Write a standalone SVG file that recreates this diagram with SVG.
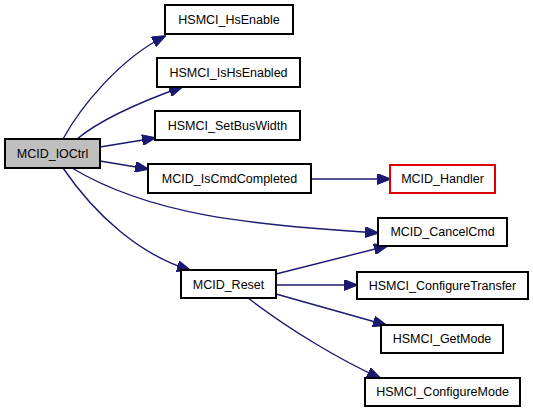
<svg xmlns="http://www.w3.org/2000/svg" width="533" height="412" viewBox="0 0 533 412">
<style>
.n rect{fill:#fff;stroke:#000;stroke-width:2}
.n text{font-family:"Liberation Sans",Arial,sans-serif;font-size:12.5px;fill:#000;text-anchor:middle}
.e path{fill:none;stroke:#191970;stroke-width:1.4;marker-end:url(#a)}
</style>
<defs>
<marker id="a" markerUnits="userSpaceOnUse" markerWidth="14" markerHeight="11" refX="13" refY="5.5" orient="auto" viewBox="0 0 14 11">
<polygon points="0,0 14,5.5 0,11" fill="#191970" stroke="#191970"/>
</marker>
</defs>
<rect width="533" height="412" fill="#fff"/>
<g class="e" id="edges">
<path d="M63,139 C80,108 118,60 165,36"/>
<path d="M77,139 C100,120 140,102 182,87"/>
<path d="M100,147 L155,138"/>
<path d="M100,161 L148,169"/>
<path d="M72,168 C150,215 250,225 378,233"/>
<path d="M63,168 C95,215 140,255 190,270"/>
<path d="M311,179 L390,179"/>
<path d="M276,274 L387,246"/>
<path d="M276,285 L357,285"/>
<path d="M276,294 L386,325"/>
<path d="M248,298 C290,330 340,360 380,378"/>
</g>
<g class="n" id="MCID_IOCtrl"><rect x="5" y="139" width="95" height="29" style="fill:#bfbfbf"/><text x="52.5" y="158">MCID_IOCtrl</text></g>
<g class="n" id="HSMCI_HsEnable"><rect x="165" y="5" width="128" height="29"/><text x="229" y="24">HSMCI_HsEnable</text></g>
<g class="n" id="HSMCI_IsHsEnabled"><rect x="157" y="58" width="143" height="29"/><text x="228.5" y="77">HSMCI_IsHsEnabled</text></g>
<g class="n" id="HSMCI_SetBusWidth"><rect x="155" y="111" width="145" height="29"/><text x="227.5" y="130">HSMCI_SetBusWidth</text></g>
<g class="n" id="MCID_IsCmdCompleted"><rect x="148" y="164" width="163" height="29"/><text x="229.5" y="183">MCID_IsCmdCompleted</text></g>
<g class="n" id="MCID_Reset"><rect x="181" y="270" width="95" height="28"/><text x="228.5" y="289">MCID_Reset</text></g>
<g class="n" id="MCID_Handler"><rect x="390" y="165" width="105" height="28" style="stroke:#e00000"/><text x="442.5" y="183">MCID_Handler</text></g>
<g class="n" id="MCID_CancelCmd"><rect x="378" y="218" width="129" height="28"/><text x="442.5" y="236">MCID_CancelCmd</text></g>
<g class="n" id="HSMCI_ConfigureTransfer"><rect x="357" y="272" width="171" height="27"/><text x="442.5" y="290">HSMCI_ConfigureTransfer</text></g>
<g class="n" id="HSMCI_GetMode"><rect x="381" y="325" width="122" height="28"/><text x="442" y="343">HSMCI_GetMode</text></g>
<g class="n" id="HSMCI_ConfigureMode"><rect x="365" y="378" width="155" height="28"/><text x="442.5" y="396">HSMCI_ConfigureMode</text></g>
</svg>
